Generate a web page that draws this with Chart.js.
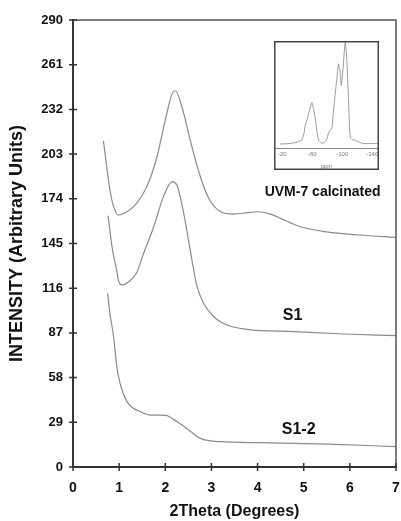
<!DOCTYPE html>
<html>
<head>
<meta charset="utf-8">
<script src="https://cdn.jsdelivr.net/npm/chart.js@4.4.1/dist/chart.umd.min.js"></script>
<style>
  html, body { margin: 0; padding: 0; background: #fff; }
  #wrap { position: relative; width: 401px; height: 521px; }
  #insetChart { position: absolute; left: 274px; top: 41px; }
</style>
</head>
<body>
<div id="wrap">
  <canvas id="chart" width="401" height="521"></canvas>
  <canvas id="insetChart" width="105" height="129"></canvas>
</div>
<script>
// ================= DATA =================
const xTicks = [0, 1, 2, 3, 4, 5, 6, 7];
const yTicks = [0, 29, 58, 87, 116, 145, 174, 203, 232, 261, 290];

const uvmX = [0.66, 0.73, 0.80, 0.88, 0.985, 1.17, 1.38, 1.60, 1.82, 2.00, 2.15, 2.22, 2.36, 2.54, 2.76, 2.94, 3.20, 3.48, 3.78, 3.99, 4.28, 4.50, 4.93, 5.50, 6.20, 7.00];
const uvmY = [211.5, 194.8, 179.7, 168.9, 163.5, 165.6, 171.1, 181.9, 201.3, 225.1, 242.4, 244.1, 233.7, 212.1, 188.3, 174.3, 165.6, 164.1, 165.0, 165.6, 164.1, 161.3, 155.9, 152.5, 150.5, 149.0];

const s1X = [0.76, 0.85, 0.95, 0.985, 1.06, 1.20, 1.38, 1.53, 1.75, 1.96, 2.15, 2.25, 2.40, 2.54, 2.62, 2.69, 2.83, 3.05, 3.34, 3.78, 4.79, 5.88, 7.00];
const s1Y = [163, 142, 127, 121, 118.1, 120, 126, 138.6, 155.9, 175.4, 185.1, 183, 164.6, 140.8, 127, 117, 106.2, 97.5, 92.1, 89.3, 87.8, 86.3, 85.2];

const s12X = [0.75, 0.80, 0.88, 0.95, 1.02, 1.17, 1.31, 1.46, 1.67, 1.89, 2.04, 2.18, 2.33, 2.51, 2.76, 3.20, 4.07, 5.52, 7.00];
const s12Y = [112.7, 99.7, 84.5, 65.0, 54.3, 42.4, 38.1, 35.9, 33.7, 33.7, 33.3, 30.9, 27.9, 24.0, 18.6, 16.4, 15.8, 14.9, 13.2];

// series labels drawn next to the curves (data coords)
const labelText = ["UVM-7 calcinated", "S1", "S1-2"];
const labelX = [5.41, 4.76, 4.89];
const labelY = [178.4, 98, 24];

// inset spectrum
const insetTicks = [-20, -60, -100, -140];
const insetX = [-17, -30, -40, -46, -49, -50.7, -53, -57, -59.6, -62, -64, -66, -68.4, -72, -75, -79, -81.7, -84, -86.2, -88, -90.7, -93, -95, -97, -98.7, -101, -104, -106, -108.4, -110.7, -114, -117, -122, -128, -138, -148];
const insetY = [4, 4.5, 6, 8, 15, 23, 28, 40, 46, 38, 30, 18, 8, 5, 5, 8, 15, 18, 20, 35, 55, 72, 85, 78, 63, 80, 107, 90, 48, 11, 8, 8, 6, 4.5, 4.5, 4.5];

const toPoints = (xs, ys) => xs.map((x, i) => ({ x: x, y: ys[i] }));

const SANS = "'Liberation Sans', Arial, sans-serif";
const CURVE = "#8a8a8a";

// ================= PLUGIN : FRAME, CROSS TICKS, LABELS =================
const decorations = {
  id: "decorations",
  afterDraw(chart) {
    const { ctx, chartArea: a, scales: { x, y } } = chart;
    ctx.save();
    // top + right frame
    ctx.strokeStyle = "#555";
    ctx.lineWidth = 1.5;
    ctx.beginPath();
    ctx.moveTo(a.left, a.top);
    ctx.lineTo(a.right, a.top);
    ctx.lineTo(a.right, a.bottom);
    ctx.stroke();
    // ticks crossing the axes
    ctx.strokeStyle = "#333";
    ctx.lineWidth = 1.5;
    ctx.beginPath();
    xTicks.forEach(v => {
      const px = x.getPixelForValue(v);
      ctx.moveTo(px, a.bottom - 4);
      ctx.lineTo(px, a.bottom + 4);
    });
    yTicks.forEach(v => {
      const py = y.getPixelForValue(v);
      ctx.moveTo(a.left - 4, py);
      ctx.lineTo(a.left + 4, py);
    });
    ctx.stroke();
    // curve labels
    ctx.fillStyle = "#111";
    ctx.textAlign = "center";
    ctx.textBaseline = "middle";
    labelText.forEach((t, i) => {
      ctx.font = "bold " + (i === 0 ? 14 : 16) + "px " + SANS;
      ctx.fillText(t, x.getPixelForValue(labelX[i]), y.getPixelForValue(labelY[i]));
    });
    ctx.restore();
  }
};

// ================= MAIN CHART =================
new Chart(document.getElementById("chart"), {
  type: "line",
  data: {
    datasets: [
      { data: toPoints(uvmX, uvmY) },
      { data: toPoints(s1X, s1Y) },
      { data: toPoints(s12X, s12Y) }
    ].map(d => Object.assign(d, {
      borderColor: CURVE,
      borderWidth: 1.2,
      pointRadius: 0,
      fill: false,
      cubicInterpolationMode: "monotone"
    }))
  },
  options: {
    responsive: false,
    animation: false,
    layout: { padding: { top: 20, right: 5, left: 0, bottom: 0 } },
    plugins: { legend: { display: false }, tooltip: { enabled: false } },
    scales: {
      x: {
        type: "linear",
        min: 0, max: 7,
        afterBuildTicks: s => { s.ticks = xTicks.map(v => ({ value: v })); },
        afterFit: s => { s.height = 54; s.paddingLeft = 0; s.paddingRight = 0; },
        grid: { display: false, drawTicks: false },
        border: { display: true, color: "#333", width: 2 },
        ticks: { color: "#111", padding: 13, font: { family: SANS, size: 14, weight: "bold" } },
        title: {
          display: true,
          text: "2Theta (Degrees)",
          color: "#111",
          padding: { top: 4, bottom: 0 },
          font: { family: SANS, size: 16, weight: "bold" }
        }
      },
      y: {
        min: 0, max: 290,
        afterBuildTicks: s => { s.ticks = yTicks.map(v => ({ value: v })); },
        afterFit: s => { s.width = 73; s.paddingTop = 0; s.paddingBottom = 0; },
        grid: { display: false, drawTicks: false },
        border: { display: true, color: "#333", width: 2 },
        ticks: { color: "#111", padding: 10, font: { family: SANS, size: 13, weight: "bold" } },
        title: {
          display: true,
          text: "INTENSITY (Arbitrary Units)",
          color: "#111",
          padding: { top: 6, bottom: 0 },
          font: { family: SANS, size: 18, weight: "bold" }
        }
      }
    }
  },
  plugins: [decorations]
});

// ================= INSET =================
const insetFrame = {
  id: "insetFrame",
  beforeDraw(chart) {
    const { ctx, width, height } = chart;
    ctx.save();
    ctx.fillStyle = "#fff";
    ctx.fillRect(0, 0, width, height);
    ctx.restore();
  },
  afterDraw(chart) {
    const { ctx, width, height } = chart;
    ctx.save();
    ctx.strokeStyle = "#444";
    ctx.lineWidth = 1.5;
    ctx.strokeRect(0.75, 0.75, width - 1.5, height - 1.5);
    ctx.restore();
  }
};

new Chart(document.getElementById("insetChart"), {
  type: "line",
  data: {
    datasets: [{
      data: toPoints(insetX, insetY),
      borderColor: "#9a9a9a",
      borderWidth: 1,
      pointRadius: 0,
      tension: 0.2
    }]
  },
  options: {
    responsive: false,
    animation: false,
    layout: { padding: { top: 1, left: 0, right: 0, bottom: 0 } },
    plugins: { legend: { display: false }, tooltip: { enabled: false } },
    scales: {
      x: {
        type: "linear",
        reverse: true,
        min: -149, max: -9,
        afterBuildTicks: s => { s.ticks = insetTicks.map(v => ({ value: v })); },
        afterFit: s => { s.height = 22; s.paddingLeft = 0; s.paddingRight = 0; },
        grid: { display: false, drawTicks: true, tickLength: 2, color: "#888" },
        border: { display: true, color: "#888", width: 1 },
        ticks: { color: "#777", padding: 1, font: { family: SANS, size: 6 } },
        title: {
          display: true,
          text: "ppm",
          color: "#777",
          padding: 0,
          font: { family: SANS, size: 6 }
        }
      },
      y: { display: false, min: 0, max: 107 }
    }
  },
  plugins: [insetFrame]
});
</script>
</body>
</html>
